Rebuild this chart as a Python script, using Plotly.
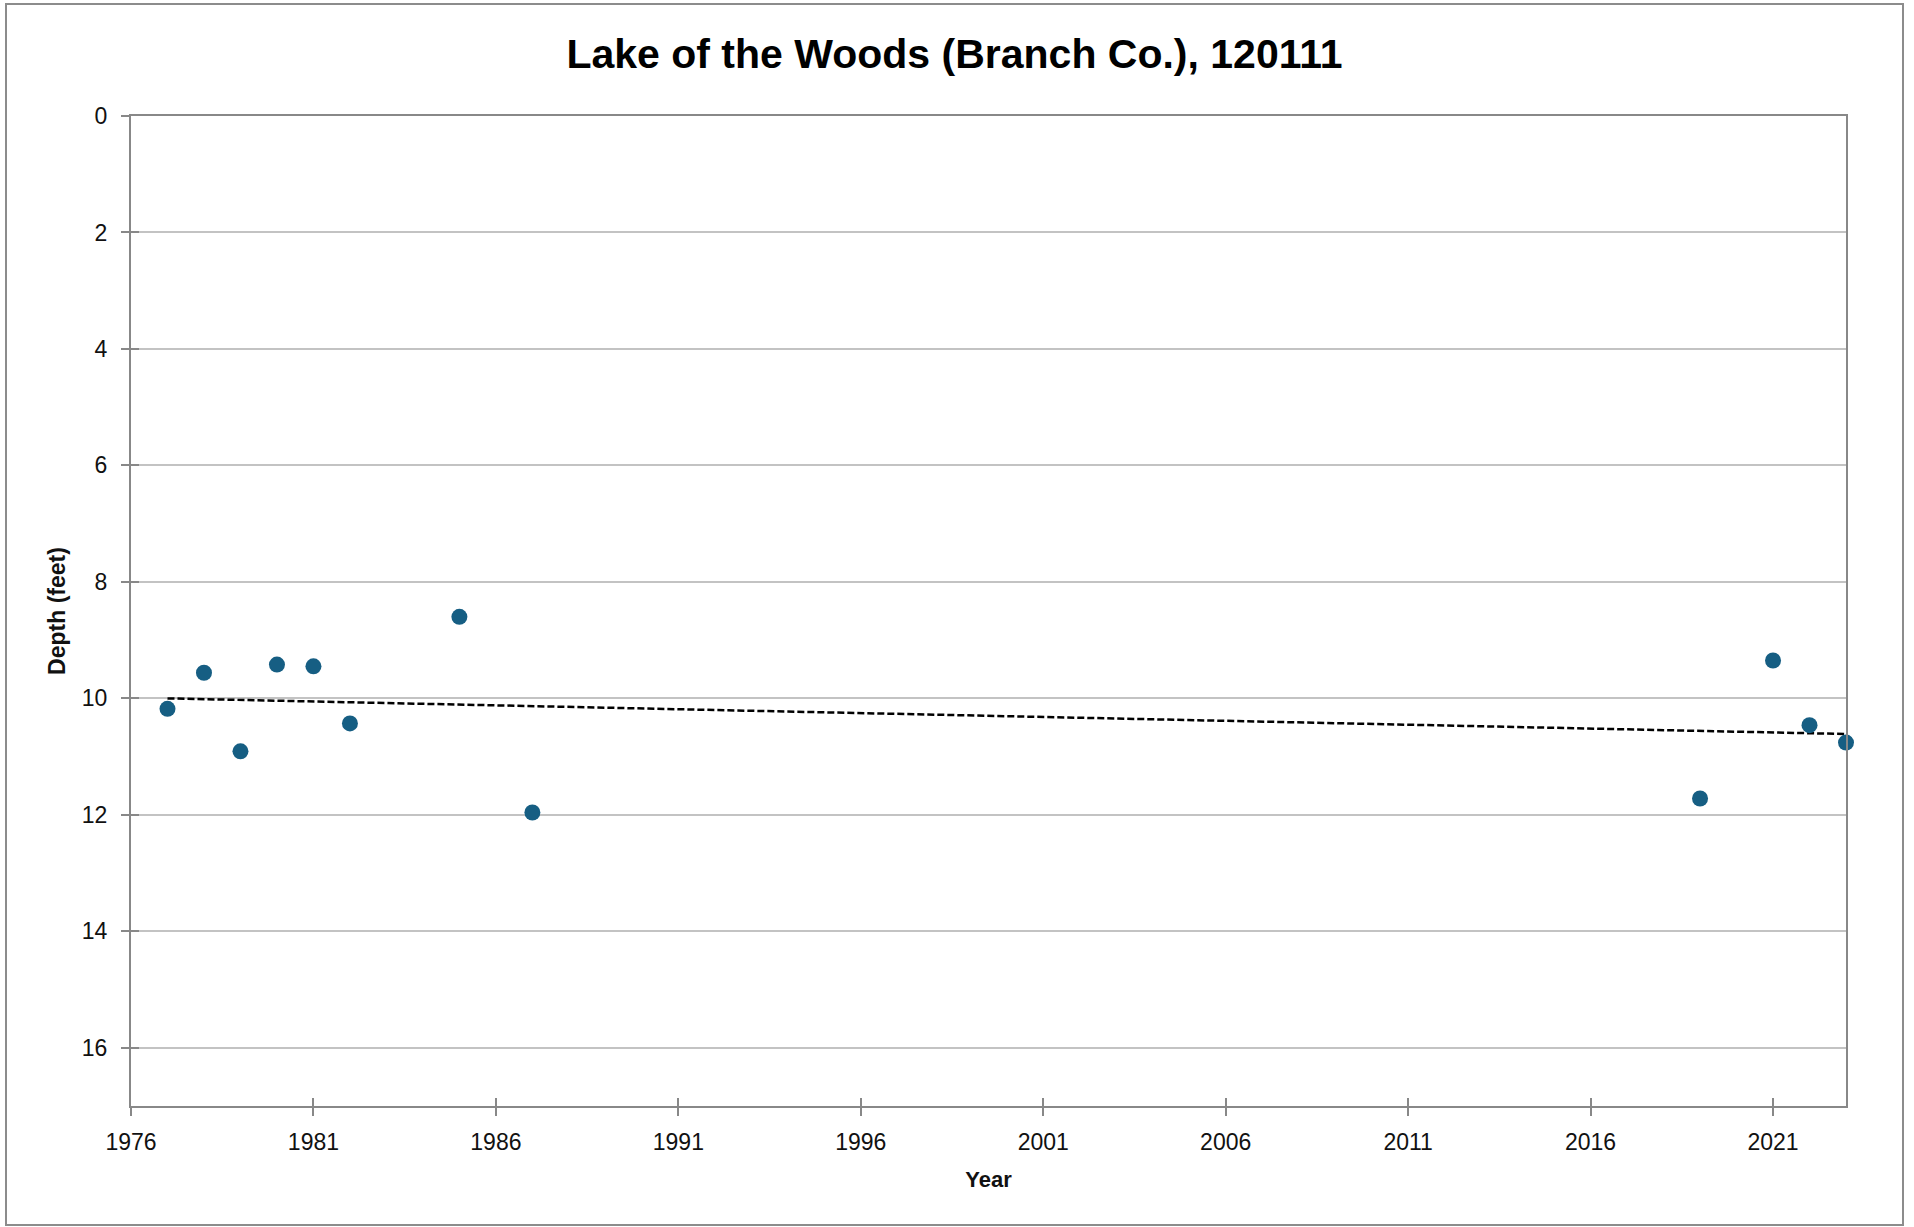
import numpy as np
import plotly.graph_objects as go

# ---- data ----
years = [1977, 1978, 1979, 1980, 1981, 1982, 1985, 1987, 2019, 2021, 2022, 2023]
depths = [10.18, 9.56, 10.91, 9.42, 9.45, 10.43, 8.60, 11.96, 11.72, 9.35, 10.46, 10.76]
title_text = "Lake of the Woods (Branch Co.), 120111"
x_title = "Year"
y_title = "Depth (feet)"
x_range = [1976, 2023]
y_range = [17, 0]
y_ticks = [0, 2, 4, 6, 8, 10, 12, 14, 16]

# linear trendline (least squares, as Excel does)
slope, intercept = np.polyfit(years, depths, 1)
trend_x = [min(years), max(years)]
trend_y = [slope * v + intercept for v in trend_x]

W, H = 1914, 1227
L, R, T, B = 131, 68, 116, 121
pw, ph = W - L - R, H - T - B

def px_x(p):
    return (p - L) / pw

def px_y(p):
    return 1 - (p - T) / ph

fig = go.Figure()
fig.add_trace(go.Scatter(
    x=trend_x, y=trend_y, mode="lines",
    line=dict(color="#000000", width=2.5, dash="7px,3px"),
    hoverinfo="skip", showlegend=False))
fig.add_trace(go.Scatter(
    x=years, y=depths, mode="markers",
    marker=dict(color="#165E83", size=16, line=dict(width=0)),
    showlegend=False, cliponaxis=False))

axis_col = "#888888"
grid_col = "#C3C3C3"
tick_font = dict(family="Liberation Sans, Arial, sans-serif", size=23, color="#111111")
title_font = dict(family="Liberation Sans, Arial, sans-serif", size=23, color="#111111")

fig.update_layout(
    width=W, height=H,
    margin=dict(l=L, r=R, t=T, b=B, autoexpand=False),
    paper_bgcolor="white", plot_bgcolor="white",
    title=dict(text="<b>" + title_text + "</b>",
               font=dict(family="Liberation Sans, Arial, sans-serif", size=41, color="#000000"),
               x=954.5 / W, xref="container", xanchor="center",
               y=1 - 54 / H, yref="container", yanchor="middle"),
    xaxis=dict(range=x_range, tick0=1976, dtick=5, tickmode="linear",
               showgrid=False, zeroline=False,
               showline=True, linecolor=axis_col, linewidth=2, mirror=True,
               ticks="outside", ticklen=8, tickwidth=2, tickcolor=axis_col,
               tickfont=tick_font, ticklabelstandoff=6,
               title=dict(text="<b>" + x_title + "</b>", font=dict(title_font, size=22), standoff=18)),
    yaxis=dict(range=y_range, tickvals=y_ticks,
               showgrid=True, gridcolor=grid_col, gridwidth=2, zeroline=False,
               showline=True, linecolor=axis_col, linewidth=2, mirror=True,
               ticks="outside", ticklen=8, tickwidth=2, tickcolor=axis_col,
               tickfont=tick_font, ticklabelstandoff=9,
               title=dict(text="<b>" + y_title + "</b>", font=title_font, standoff=10)),
    # companion axes that draw the inner half of the crossing tick marks
    xaxis2=dict(overlaying="x", range=x_range, tick0=1976, dtick=5, tickmode="linear",
                showgrid=False, zeroline=False, showline=False, showticklabels=False,
                ticks="inside", ticklen=8, tickwidth=2, tickcolor=axis_col, side="bottom"),
    yaxis2=dict(overlaying="y", range=y_range, tickvals=y_ticks,
                showgrid=False, zeroline=False, showline=False, showticklabels=False,
                ticks="inside", ticklen=8, tickwidth=2, tickcolor=axis_col, side="left"),
    shapes=[dict(type="rect", xref="paper", yref="paper",
                 x0=px_x(6), x1=px_x(1903), y0=px_y(1225), y1=px_y(4),
                 line=dict(color="#8C8C8C", width=2), fillcolor="rgba(0,0,0,0)",
                 layer="below")],
)
fig.add_trace(go.Scatter(x=[None], y=[None], xaxis="x2", yaxis="y2",
                         showlegend=False, hoverinfo="skip"))

fig.write_html("out.html", config={"displayModeBar": False},
               post_script="document.body.style.margin='0';")
